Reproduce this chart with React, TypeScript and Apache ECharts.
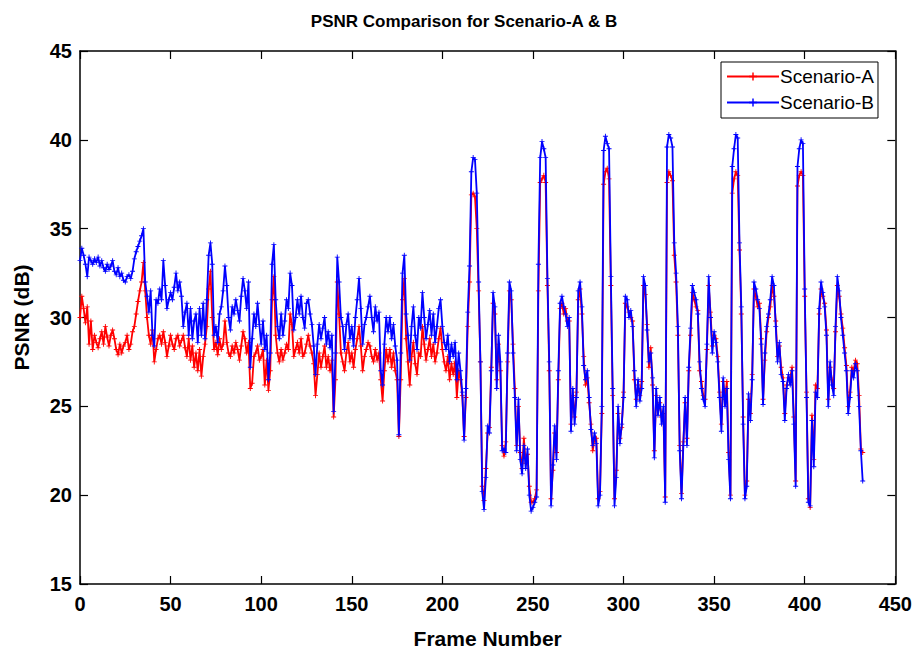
import React, { useEffect, useRef } from "react";
import * as echarts from "echarts";

const seriesNames = ["Scenario-A", "Scenario-B"];
const xTicks = [0, 50, 100, 150, 200, 250, 300, 350, 400, 450];
const yTicks = [15, 20, 25, 30, 35, 40, 45];

// PSNR (dB) per frame, frame index = array position (0..432)
const scenarioA = [
  30.0, 31.2, 30.5, 29.7, 30.6, 28.5, 29.8, 28.2, 29.0, 28.6,
  28.3, 28.8, 29.2, 28.5, 29.5, 28.9, 28.4, 29.0, 29.3, 28.8,
  28.2, 27.9, 28.5, 28.0, 28.4, 28.6, 29.0, 28.2, 28.5, 29.2,
  29.5, 30.2, 30.9, 31.5, 32.0, 33.1, 31.5, 30.0, 29.0, 28.5,
  29.3, 27.5, 28.2, 28.8, 29.0, 28.5, 29.2, 28.6, 27.8, 28.4,
  29.0, 28.5, 28.2, 28.8, 29.0, 28.4, 28.7, 29.0, 28.3, 27.8,
  28.8, 27.6, 28.4, 27.2, 28.0, 27.0, 28.2, 26.7, 27.8, 28.5,
  29.5, 31.6, 32.6, 30.0, 28.2, 28.6, 27.9, 28.8, 28.2, 28.5,
  29.8, 28.6, 28.0, 27.8, 28.4, 28.0, 28.6, 28.2, 27.6, 28.4,
  29.2, 28.8, 28.0, 28.6, 26.0, 26.3, 27.8, 28.0, 28.4, 27.6,
  27.8, 28.2, 26.2, 27.6, 25.9, 27.0, 31.0, 32.3, 29.0, 28.0,
  27.5, 28.2, 27.6, 28.0, 28.5, 28.2, 30.2, 29.6, 27.8, 28.2,
  28.6, 28.0, 28.8, 27.8, 28.0, 28.5, 29.0, 28.4, 28.0, 27.4,
  25.6, 26.8, 28.0, 27.2, 27.8, 28.4, 27.2, 27.8, 27.0, 27.6,
  24.4, 26.5, 32.0, 30.2, 28.0, 27.5, 27.0, 28.0, 28.6, 27.5,
  28.0, 27.2, 28.2, 28.8, 29.5, 28.4, 27.0, 27.8, 28.2, 28.6,
  28.4, 27.8, 27.5, 28.2, 27.6, 28.0, 26.5, 25.3, 27.0, 28.2,
  27.5, 28.2, 27.2, 28.0, 27.0, 26.5, 23.3, 26.5, 31.0, 32.2,
  28.8, 27.5, 26.2, 27.8, 28.6, 27.4, 26.8, 28.0, 27.8, 29.5,
  28.5, 27.6, 28.2, 28.8, 27.8, 28.5, 27.5, 28.0, 28.8, 29.4,
  28.2, 27.5, 27.0, 27.8, 26.5, 27.4, 26.8, 27.5, 25.5, 27.0,
  26.5, 25.6, 23.3, 25.5, 29.5, 32.0, 36.9, 37.0, 36.8, 35.0,
  31.5, 27.5, 20.5, 19.7, 21.5, 23.5, 23.8, 27.2, 30.8, 30.2,
  26.5, 28.5, 27.0, 22.8, 22.2, 23.0, 27.5, 31.5, 31.0, 28.5,
  26.0, 22.8, 25.0, 22.4, 21.5, 23.2, 21.8, 22.3, 20.5, 19.6,
  19.6, 19.8, 20.3, 31.5, 37.6, 37.8, 38.0, 37.6, 31.8, 27.0,
  19.8, 21.4, 23.5, 22.4, 26.5, 30.5, 30.8, 30.2, 30.5, 29.8,
  29.8, 24.0, 25.6, 24.4, 25.8, 31.0, 31.6, 30.2, 27.8, 26.2,
  26.6, 25.2, 24.0, 22.5, 23.2, 23.2, 19.8, 20.2, 24.6, 37.5,
  38.2, 38.4, 37.8, 31.8, 25.6, 19.8, 21.4, 24.6, 23.2, 23.8,
  25.8, 30.8, 30.6, 30.3, 30.0, 29.8, 26.5, 25.4, 26.2, 25.6,
  26.4, 31.8, 31.3, 29.6, 27.2, 28.3, 26.2, 22.5, 25.6, 24.8,
  25.2, 24.4, 24.6, 19.9, 37.6, 38.2, 38.0, 37.7, 33.5, 32.0,
  29.0, 22.8, 20.1, 23.0, 25.2, 23.2, 27.0, 29.0, 31.4, 31.0,
  30.6, 30.4, 27.0, 26.4, 25.6, 25.4, 28.2, 31.8, 30.3, 28.4,
  29.0, 28.8, 27.8, 25.8, 24.0, 26.4, 25.4, 26.4, 22.4, 20.0,
  37.0, 37.8, 38.2, 38.0, 33.8, 30.2, 24.4, 20.0, 20.8, 25.4,
  24.6, 26.8, 31.6, 31.2, 30.6, 30.8, 28.8, 25.4, 27.6, 29.2,
  30.0, 30.6, 31.8, 31.2, 29.8, 27.8, 28.4, 27.2, 26.6, 24.6,
  26.2, 26.6, 26.6, 27.2, 24.4, 20.8, 37.4, 38.0, 38.2, 38.0,
  31.2, 25.8, 19.8, 19.3, 24.5, 22.0, 26.2, 26.0, 30.2, 31.6,
  31.2, 30.8, 29.3, 25.4, 27.2, 26.5, 26.0, 29.2, 31.8, 31.2,
  30.2, 29.4, 28.3, 27.3, 25.0, 25.8, 27.2, 27.0, 27.6, 27.4,
  25.6, 22.6, 22.4,
];

const scenarioB = [
  33.2, 33.9, 33.5, 33.0, 32.3, 33.4, 33.2, 33.0, 33.3, 33.1,
  33.4, 32.9, 33.2, 32.8, 32.6, 33.0, 32.7, 32.9, 33.2, 32.6,
  32.4, 32.8, 32.3, 32.5, 32.1, 32.0, 32.3, 32.4, 32.2, 32.6,
  33.3, 33.7, 34.0, 34.3, 34.6, 35.0, 32.0, 31.2, 30.3, 31.5,
  29.0, 28.4, 31.0, 30.8, 31.6, 31.0, 33.2, 31.8, 30.5, 31.0,
  31.4, 31.0, 31.7, 32.5, 31.5, 32.0, 31.2, 29.5, 30.3, 30.8,
  29.0, 30.5, 28.8, 29.8, 30.2, 28.6, 30.5, 29.0, 30.8, 28.8,
  31.0, 33.5, 34.2, 33.0, 29.0, 29.5, 28.6, 30.2, 30.6, 31.5,
  32.9, 31.8, 30.0, 29.3, 30.6, 30.2, 31.0, 30.4, 29.8, 31.2,
  32.2, 31.5, 30.5, 32.0, 27.2, 28.8, 30.2, 29.5, 30.8, 29.6,
  28.5, 29.8, 28.2, 29.0, 26.5, 28.0, 33.0, 34.1, 31.0, 29.5,
  28.8, 30.2, 29.0, 29.8, 31.0, 30.5, 32.5, 31.8, 29.3, 30.0,
  31.0, 30.2, 31.2, 30.0, 29.4, 30.8, 31.0, 30.2, 29.6, 28.4,
  26.8, 28.5, 29.6, 28.8, 29.4, 30.0, 28.5, 29.2, 28.3, 29.0,
  24.7, 28.0, 33.4, 32.0, 30.0, 29.5, 28.2, 29.6, 30.2, 28.8,
  29.5, 28.4, 30.0, 31.0, 32.2, 30.5, 28.5, 29.6, 30.0, 30.6,
  31.2, 30.0, 29.2, 30.6, 29.8, 30.3, 27.0, 26.2, 28.5, 30.0,
  29.2, 30.0, 28.8, 29.6, 28.4, 27.6, 23.4, 28.0, 32.5, 33.5,
  30.2, 29.0, 27.6, 29.5, 30.6, 29.0, 28.2, 30.0, 29.4, 31.4,
  30.0, 28.8, 29.6, 30.4, 29.0, 30.2, 28.6, 29.5, 30.5, 31.0,
  29.5, 28.6, 28.2, 29.0, 27.5, 28.5, 27.8, 28.6, 26.5, 28.0,
  27.0, 25.8, 23.1, 26.0, 30.3, 32.9, 38.2, 39.0, 38.9, 37.0,
  32.0, 27.5, 20.2, 19.2, 21.0, 23.9, 23.5, 27.0, 31.4, 30.6,
  26.0, 29.0, 27.5, 22.5, 22.6, 22.4, 28.0, 32.0, 31.5, 28.0,
  25.5, 22.5, 25.4, 22.0, 21.2, 22.8, 21.5, 22.6, 20.0, 19.1,
  19.3, 19.6, 19.9, 33.0, 39.0, 39.9, 39.5, 39.0, 32.2, 27.5,
  19.4, 21.7, 23.9, 22.0, 27.0, 30.8, 31.2, 30.6, 30.2, 29.5,
  30.0, 23.6, 26.0, 24.0, 25.5, 31.5, 32.0, 30.6, 27.3, 26.5,
  27.0, 25.5, 23.7, 22.8, 23.5, 22.9, 19.4, 20.0, 25.0, 39.4,
  40.2, 39.8, 39.5, 32.3, 26.0, 19.4, 21.0, 25.0, 22.9, 24.0,
  25.5, 31.2, 31.0, 30.0, 30.4, 29.5, 27.0, 25.0, 26.5, 25.3,
  26.0, 32.3, 31.8, 29.3, 27.5, 28.0, 26.6, 22.1, 26.0, 24.5,
  25.5, 24.0, 25.0, 19.6, 39.6, 40.3, 40.1, 39.6, 34.2, 32.5,
  29.5, 22.5, 19.8, 22.8, 25.5, 22.8, 27.2, 29.4, 31.8, 31.4,
  31.0, 30.2, 27.5, 26.0, 25.4, 25.0, 28.5, 32.3, 30.0, 28.0,
  29.2, 28.6, 27.5, 25.5, 23.6, 26.6, 25.0, 26.0, 22.0, 19.8,
  38.5, 39.5, 40.3, 40.1, 34.2, 30.6, 24.0, 19.8, 20.5, 25.7,
  24.2, 26.5, 32.0, 31.6, 31.0, 30.5, 28.5, 25.1, 28.0, 29.5,
  30.2, 31.0, 32.3, 31.8, 29.5, 27.5, 28.6, 26.8, 26.4, 24.2,
  26.0, 26.8, 26.2, 27.0, 24.0, 20.5, 38.5, 39.5, 40.0, 39.8,
  31.6, 25.5, 19.6, 19.4, 24.2, 21.6, 25.8, 25.5, 30.5, 32.0,
  31.4, 30.6, 29.0, 25.0, 27.5, 26.2, 25.6, 29.5, 32.3, 31.5,
  30.0, 29.0, 28.0, 27.0, 24.6, 25.5, 27.0, 26.6, 27.4, 27.0,
  25.0, 22.5, 20.8,
];

const PLUS = "path://M-0.18,-1H0.18V-0.18H1V0.18H0.18V1H-0.18V0.18H-1V-0.18H-0.18Z";
const FONT = "'Liberation Sans', Arial, Helvetica, sans-serif";

export default function App() {
  const ref = useRef<HTMLDivElement>(null);
  useEffect(() => {
    if (!ref.current) return;
    const chart = echarts.init(ref.current, undefined, { renderer: "svg" });
    const toPairs = (arr: number[]) => arr.map((v, i) => [i, v]);
    const axisCommon = {
      type: "value" as const,
      axisLine: { show: true, onZero: false, lineStyle: { color: "#000", width: 1.5 } },
      axisTick: { show: true, inside: true, length: 8, lineStyle: { color: "#000", width: 1.2 } },
      splitLine: { show: false },
    };
    const labelStyle = { color: "#000", fontWeight: "bold" as const, fontSize: 20, fontFamily: FONT };
    chart.setOption({
      animation: false,
      backgroundColor: "#fff",
      title: {
        text: "PSNR Comparison for Scenario-A & B",
        left: 459,
        textAlign: "center",
        top: 8,
        textStyle: { color: "#000", fontWeight: "bold", fontSize: 17, fontFamily: FONT },
      },
      grid: { left: 80, top: 51, width: 818, height: 535, containLabel: false },
      legend: {
        data: seriesNames,
        orient: "vertical",
        left: 721,
        top: 62,
        padding: [5, 4, 6, 5],
        itemGap: 7,
        itemWidth: 52,
        itemHeight: 10,
        borderColor: "#000",
        borderWidth: 1,
        backgroundColor: "#fff",
        textStyle: { color: "#000", fontSize: 19, fontFamily: FONT, padding: [0, 0, 0, -4] },
      },
      xAxis: [
        {
          ...axisCommon,
          position: "bottom",
          min: xTicks[0],
          max: xTicks[xTicks.length - 1],
          interval: 50,
          axisLabel: { ...labelStyle, margin: 10 },
          name: "Frame Number",
          nameLocation: "middle",
          nameGap: 44,
          nameTextStyle: { ...labelStyle, fontSize: 21 },
        },
        {
          ...axisCommon,
          position: "top",
          min: xTicks[0],
          max: xTicks[xTicks.length - 1],
          interval: 50,
          axisLabel: { show: false },
        },
      ],
      yAxis: [
        {
          ...axisCommon,
          position: "left",
          min: yTicks[0],
          max: yTicks[yTicks.length - 1],
          interval: 5,
          axisLabel: { ...labelStyle, margin: 8 },
          name: "PSNR (dB)",
          nameLocation: "middle",
          nameGap: 48,
          nameTextStyle: { ...labelStyle, fontSize: 21 },
        },
        {
          ...axisCommon,
          position: "right",
          min: yTicks[0],
          max: yTicks[yTicks.length - 1],
          interval: 5,
          axisLabel: { show: false },
        },
      ],
      series: [
        {
          name: seriesNames[0],
          type: "line",
          data: toPairs(scenarioA),
          symbol: PLUS,
          symbolSize: 5,
          showAllSymbol: true,
          itemStyle: { color: "#ff0000" },
          lineStyle: { color: "#ff0000", width: 1.8 },
          z: 2,
        },
        {
          name: seriesNames[1],
          type: "line",
          data: toPairs(scenarioB),
          symbol: PLUS,
          symbolSize: 5,
          showAllSymbol: true,
          itemStyle: { color: "#0000ff" },
          lineStyle: { color: "#0000ff", width: 1.8 },
          z: 3,
        },
      ],
    });
    return () => chart.dispose();
  }, []);
  return (
    <div
      ref={ref}
      style={{ position: "fixed", left: 0, top: 0, width: 915, height: 654, background: "#fff" }}
    />
  );
}
